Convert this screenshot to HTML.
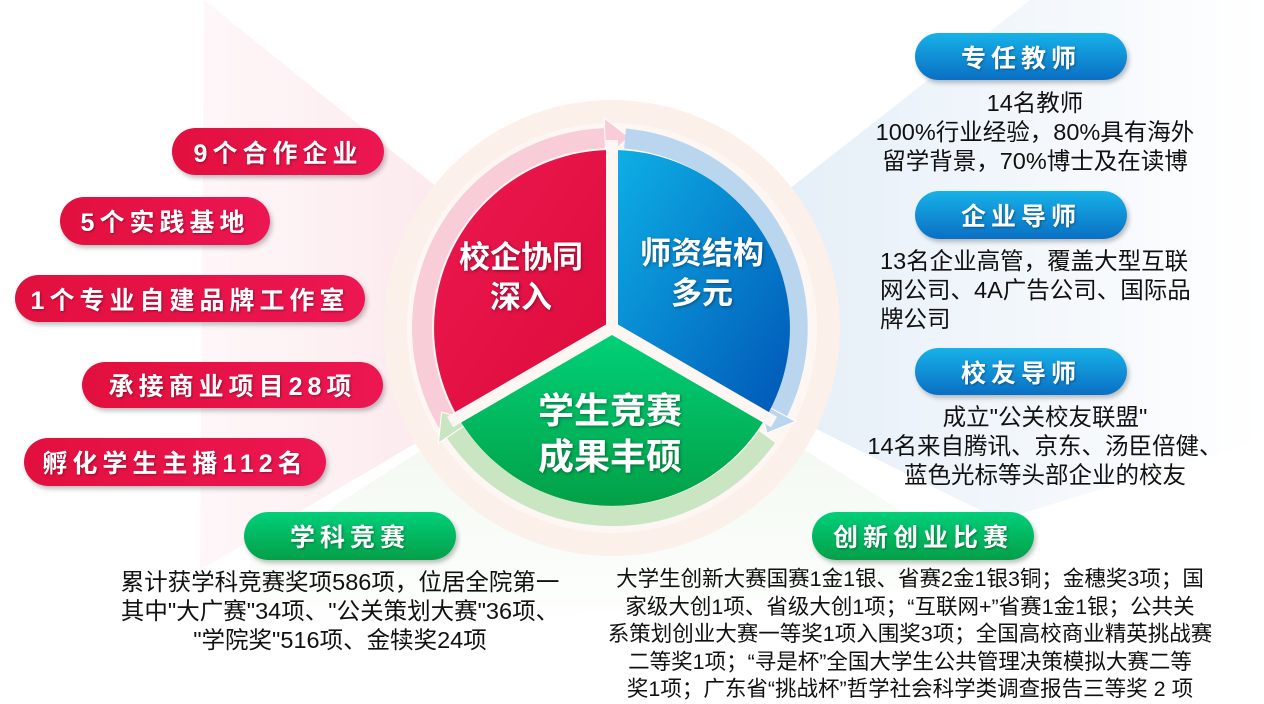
<!DOCTYPE html>
<html><head><meta charset="utf-8"><style>
*{margin:0;padding:0;box-sizing:border-box}
body{width:1264px;height:696px;overflow:hidden;background:#fff;position:relative;font-family:"Liberation Sans","Noto Sans CJK SC",sans-serif}
svg{position:absolute;left:0;top:0}
.p{position:absolute;border-radius:26px;color:#fff;font-size:25px;font-weight:bold;letter-spacing:5px;display:flex;align-items:center;justify-content:center;text-shadow:1px 1px 2px rgba(0,0,0,.35);box-shadow:2px 3px 5px rgba(0,0,0,.25);white-space:nowrap}
.r{background:linear-gradient(90deg,#e2103e,#ec1652)}
.b{background:linear-gradient(180deg,#17b2e8,#0a6fc4)}
.g{background:linear-gradient(180deg,#00d07a,#04a048)}
.t{position:absolute;font-size:23.5px;line-height:29px;color:#111;white-space:nowrap}
.c{text-align:center}
.ctr{position:absolute;color:#fff;font-weight:bold;text-align:center;text-shadow:1px 1px 3px rgba(0,0,0,.4);white-space:nowrap}
</style></head><body>
<svg width="1264" height="696" viewBox="0 0 1264 696">
<defs>
<linearGradient id="gr" x1="0" y1="0" x2="1" y2="1"><stop offset="0" stop-color="#ec1850"/><stop offset="1" stop-color="#dc0c3a"/></linearGradient>
<linearGradient id="gb" x1="0" y1="0" x2="1" y2="1"><stop offset="0" stop-color="#0eb0e6"/><stop offset="1" stop-color="#0056b6"/></linearGradient>
<linearGradient id="gg" x1="0" y1="0" x2="0" y2="1"><stop offset="0" stop-color="#00d27a"/><stop offset="1" stop-color="#03a046"/></linearGradient>
<linearGradient id="wp" x1="0" y1="0" x2="1" y2="0"><stop offset="0" stop-color="#fdeef2" stop-opacity="0.5"/><stop offset="1" stop-color="#fadbe2"/></linearGradient>
<linearGradient id="wb" x1="1" y1="0" x2="0" y2="0"><stop offset="0" stop-color="#ffffff"/><stop offset="1" stop-color="#dce9f5"/></linearGradient>
<linearGradient id="wg" x1="0" y1="0" x2="0" y2="1"><stop offset="0" stop-color="#e4f2e1"/><stop offset="1" stop-color="#ffffff"/></linearGradient>
</defs>
<polygon points="612,328 204,0 200,570" fill="url(#wp)"/>
<polygon points="612,328 1030,0 1264,0 1264,440 1000,520" fill="url(#wb)"/>
<polygon points="612,328 250,560 250,640 1010,580" fill="url(#wg)" opacity="0.7"/>
<circle cx="612" cy="328" r="228" fill="#fcf0ea"/>
<circle cx="612" cy="328" r="205" fill="#fdf6f3"/>
<path d="M447.5,423 A190,190 0 0 1 605.4,138.1" fill="none" stroke="#f8cdd7" stroke-width="20"/>
<polygon points="0,-20 24,0 0,20" fill="#f8cdd7" stroke="#fff" stroke-width="1" transform="translate(605,138) rotate(-2)"/>
<path d="M625,138.5 A190,190 0 0 1 778,412" fill="none" stroke="#bad6ee" stroke-width="20"/>
<polygon points="0,-20 24,0 0,20" fill="#bad6ee" stroke="#fff" stroke-width="1" transform="translate(778,412) rotate(118)"/>
<path d="M767,437 A190,190 0 0 1 455,432" fill="none" stroke="#cae5c2" stroke-width="20"/>
<polygon points="0,-20 24,0 0,20" fill="#cae5c2" stroke="#fff" stroke-width="1" transform="translate(455,432) rotate(236)"/>
<path d="M612,328 L457.9,417 A178,178 0 0 1 612,150 Z" fill="url(#gr)"/>
<path d="M612,328 L612,150 A178,178 0 0 1 766.1,417 Z" fill="url(#gb)"/>
<path d="M612,328 L766.1,417 A178,178 0 0 1 457.9,417 Z" fill="url(#gg)"/>
<g stroke="#fdf6f3" stroke-width="12">
<line x1="612" y1="328" x2="612" y2="140"/>
<line x1="612" y1="328" x2="450" y2="422"/>
<line x1="612" y1="328" x2="774" y2="422"/>
</g>
</svg>
<div class="ctr" style="left:441px;top:238px;width:160px;font-size:31px;line-height:40px">校企协同<br>深入</div>
<div class="ctr" style="left:622px;top:234px;width:160px;font-size:31px;line-height:40px">师资结构<br>多元</div>
<div class="ctr" style="left:510px;top:388px;width:200px;font-size:36px;line-height:46px">学生竞赛<br>成果丰硕</div>

<div class="p r" style="left:172px;top:128px;width:212px;height:47px">9个合作企业</div>
<div class="p r" style="left:60px;top:197px;width:210px;height:48px">5个实践基地</div>
<div class="p r" style="left:15px;top:275px;width:350px;height:47px">1个专业自建品牌工作室</div>
<div class="p r" style="left:82px;top:362px;width:301px;height:46px">承接商业项目28项</div>
<div class="p r" style="left:24px;top:438px;width:302px;height:48px">孵化学生主播112名</div>

<div class="p b" style="left:915px;top:33px;width:212px;height:47px">专任教师</div>
<div class="p b" style="left:915px;top:191px;width:212px;height:48px">企业导师</div>
<div class="p b" style="left:915px;top:348px;width:212px;height:47px">校友导师</div>

<div class="p g" style="left:244px;top:512px;width:212px;height:48px">学科竞赛</div>
<div class="p g" style="left:812px;top:512px;width:222px;height:48px">创新创业比赛</div>

<div class="t c" style="left:850px;top:89px;width:370px">14名教师<br>100%行业经验，80%具有海外<br>留学背景，70%博士及在读博</div>
<div class="t" style="left:880px;top:247px">13名企业高管，覆盖大型互联<br>网公司、4A广告公司、国际品<br>牌公司</div>
<div class="t c" style="left:840px;top:403px;width:410px">成立"公关校友联盟"<br>14名来自腾讯、京东、汤臣倍健、<br>蓝色光标等头部企业的校友</div>
<div class="t c" style="left:80px;top:568px;width:520px">累计获学科竞赛奖项586项，位居全院第一<br>其中"大广赛"34项、"公关策划大赛"36项、<br>"学院奖"516项、金犊奖24项</div>
<div class="t c" style="left:590px;top:566px;width:640px;font-size:21.5px;line-height:27.5px">大学生创新大赛国赛1金1银、省赛2金1银3铜；金穗奖3项；国<br>家级大创1项、省级大创1项；“互联网+”省赛1金1银；公共关<br>系策划创业大赛一等奖1项入围奖3项；全国高校商业精英挑战赛<br>二等奖1项；“寻是杯”全国大学生公共管理决策模拟大赛二等<br>奖1项；广东省“挑战杯”哲学社会科学类调查报告三等奖 2 项</div>
</body></html>
